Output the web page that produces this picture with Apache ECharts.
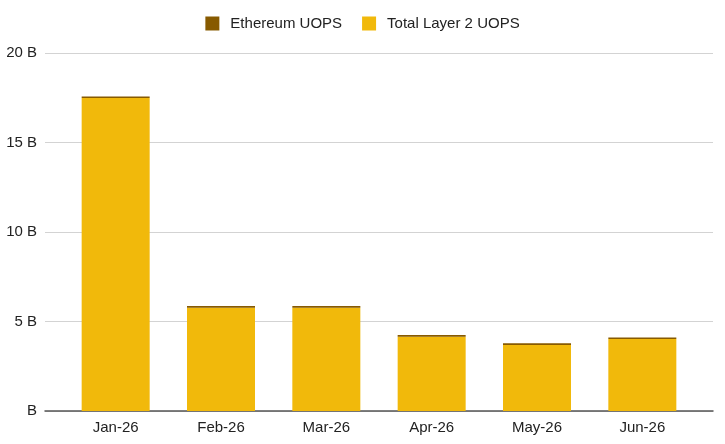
<!DOCTYPE html>
<html>
<head>
<meta charset="utf-8">
<script src="https://cdn.jsdelivr.net/npm/echarts@6/dist/echarts.min.js"></script>
<style>
  html, body { margin: 0; padding: 0; background: #fff; }
  #chart { width: 725px; height: 444px; }
</style>
</head>
<body>
<div id="chart"></div>
<script>
// 数据（单位：十亿）
var months = ['Jan-26', 'Feb-26', 'Mar-26', 'Apr-26', 'May-26', 'Jun-26'];
var layer2Uops = [17.48, 5.77, 5.77, 4.15, 3.69, 4.02];
var ethereumUops = [0.09, 0.09, 0.09, 0.09, 0.09, 0.09];
var yTicks = [0, 5, 10, 15, 20];

var chart = echarts.init(document.getElementById('chart'));

var fmtB = function (v) { return v === 0 ? 'B' : v + ' B'; };

chart.setOption({
    animation: false,
    textStyle: { fontFamily: 'Liberation Sans, Arial, sans-serif' },
    legend: {
        top: 11,
        left: 'center',
        itemWidth: 14,
        itemHeight: 14,
        itemGap: 20,
        icon: 'rect',
        textStyle: { fontSize: 15, color: '#222', padding: [0, 0, 0, 6] },
        data: ['Ethereum UOPS', 'Total Layer 2 UOPS']
    },
    // grid 0: 背景网格线和底部轴线, grid 1: 柱子
    grid: [
        { left: 45, right: 12, top: 53, bottom: 33 },
        { left: 63, right: 30, top: 53, bottom: 33 }
    ],
    xAxis: [
        {
            gridIndex: 0, type: 'value', min: 0, max: 1,
            axisLabel: { show: false }, axisTick: { show: false }, splitLine: { show: false },
            axisLine: { show: true, onZero: false, lineStyle: { color: '#555', width: 1.5 } }
        },
        {
            gridIndex: 1, type: 'category', data: months,
            axisLine: { show: false }, axisTick: { show: false },
            axisLabel: { fontSize: 15, color: '#222', margin: 9 }
        }
    ],
    yAxis: [
        {
            gridIndex: 0, type: 'value', min: yTicks[0], max: yTicks[yTicks.length - 1], interval: 5,
            axisLine: { show: false }, axisTick: { show: false },
            axisLabel: { fontSize: 15, color: '#222', margin: 8, formatter: fmtB },
            splitLine: { lineStyle: { color: '#d3d3d3', width: 1 } }
        },
        {
            gridIndex: 1, type: 'value', min: yTicks[0], max: yTicks[yTicks.length - 1], interval: 5,
            axisLine: { show: false }, axisTick: { show: false },
            axisLabel: { show: false }, splitLine: { show: false }
        }
    ],
    series: [
        {
            name: 'Total Layer 2 UOPS',
            type: 'bar',
            stack: 'uops',
            xAxisIndex: 1,
            yAxisIndex: 1,
            barWidth: 68,
            itemStyle: { color: '#f1b90b' },
            data: layer2Uops
        },
        {
            name: 'Ethereum UOPS',
            type: 'bar',
            stack: 'uops',
            xAxisIndex: 1,
            yAxisIndex: 1,
            barWidth: 68,
            itemStyle: { color: '#875a00' },
            data: ethereumUops
        }
    ]
});
</script>
</body>
</html>
